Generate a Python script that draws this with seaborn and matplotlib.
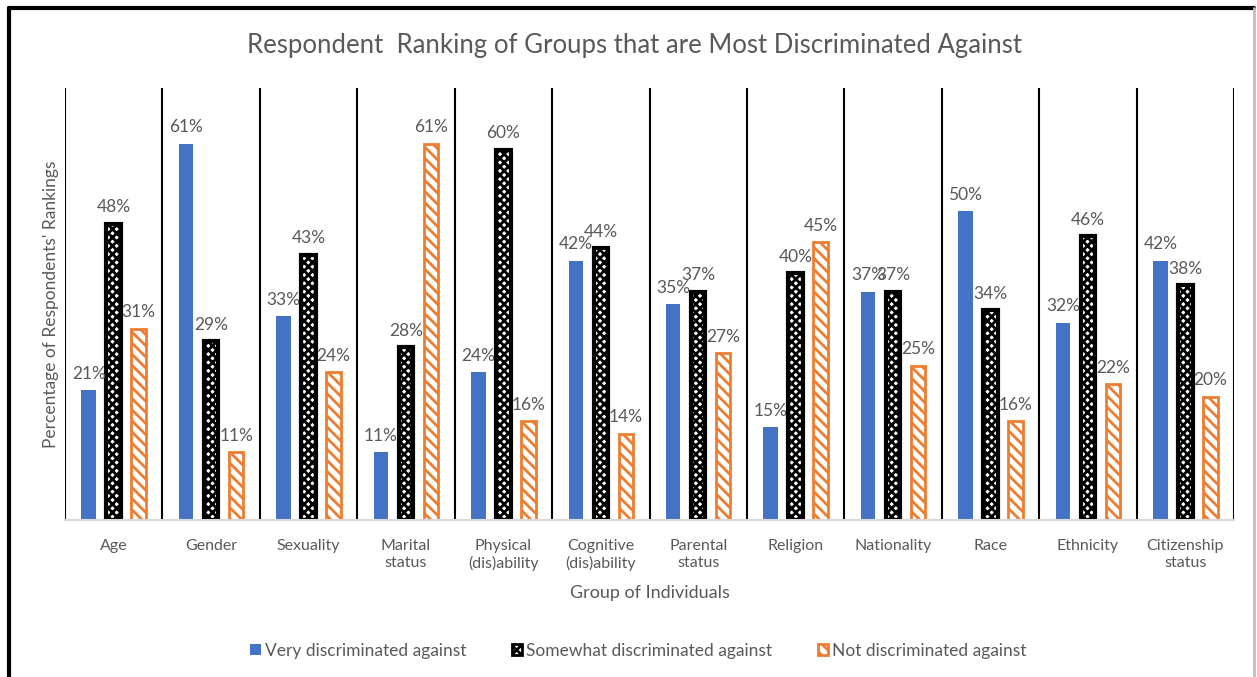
import matplotlib
matplotlib.use("Agg")
import matplotlib.pyplot as plt
import seaborn as sns
import pandas as pd
from matplotlib.patches import Patch
from matplotlib.lines import Line2D

categories = ["Age", "Gender", "Sexuality", "Marital\nstatus", "Physical\n(dis)ability",
              "Cognitive\n(dis)ability", "Parental\nstatus", "Religion", "Nationality",
              "Race", "Ethnicity", "Citizenship\nstatus"]
very = [21, 61, 33, 11, 24, 42, 35, 15, 37, 50, 32, 42]
somewhat = [48, 29, 43, 28, 60, 44, 37, 40, 37, 34, 46, 38]
notd = [31, 11, 24, 61, 16, 14, 27, 45, 25, 16, 22, 20]
series = ["Very discriminated against", "Somewhat discriminated against", "Not discriminated against"]

rows = []
for s, vals in zip(series, [very, somewhat, notd]):
    for c, v in zip(categories, vals):
        rows.append({"cat": c, "series": s, "val": v})
df = pd.DataFrame(rows)

sns.set_theme(style="white")
plt.rcParams["font.family"] = ["Lato", "DejaVu Sans"]
plt.rcParams["hatch.linewidth"] = 2.0
GRAY = "#595959"
BLUE = "#4472C4"
ORANGE = "#ED7D31"

fig = plt.figure(figsize=(12.57, 6.77), dpi=100)
ax = fig.add_axes([65/1257, 1-520/677, (1234-65)/1257, (520-88)/677])

sns.barplot(data=df, x="cat", y="val", hue="series", hue_order=series, order=categories,
            palette=[BLUE, "black", ORANGE], width=0.77, gap=0.42, ax=ax, legend=False,
            saturation=1)

ncat = len(categories)
for i, bar in enumerate(ax.patches[:3*ncat]):
    k = i // ncat
    if k == 0:
        bar.set_facecolor(BLUE)
        bar.set_edgecolor(BLUE)
        bar.set_linewidth(0)
    elif k == 1:
        bar.set_facecolor("white")
        bar.set_edgecolor("black")
        bar.set_hatch("xxxx")
        bar.set_linewidth(3)
    else:
        bar.set_facecolor("white")
        bar.set_edgecolor(ORANGE)
        bar.set_hatch("\\\\\\")
        bar.set_linewidth(2)
    h = bar.get_height()
    ax.annotate(f"{h:.0f}%", (bar.get_x() + bar.get_width()/2, h),
                xytext=(0, 6), textcoords="offset points", ha="center", va="bottom",
                fontsize=12.5, color=GRAY)

ax.set_ylim(0, 70)
ax.set_xlim(-0.5, ncat - 0.5)
for i in range(ncat + 1):
    ax.axvline(i - 0.5, color="black", lw=1.5, zorder=0)
for s in ["top", "right", "left"]:
    ax.spines[s].set_visible(False)
ax.spines["bottom"].set_color("#D9D9D9")
ax.spines["bottom"].set_linewidth(1.5)
ax.set_yticks([])
ax.tick_params(axis="x", length=0, pad=14, labelsize=11.5, labelcolor=GRAY)
ax.set_xlabel("Group of Individuals", fontsize=13, color=GRAY, labelpad=10)
ax.set_ylabel("Percentage of Respondents' Rankings", fontsize=12.5, color=GRAY, labelpad=4)

fig.text(0.505, 1-45/677, "Respondent  Ranking of Groups that are Most Discriminated Against",
         ha="center", va="center", fontsize=18.5, color=GRAY)

handles = [
    Patch(facecolor=BLUE, edgecolor=BLUE, lw=0),
    Patch(facecolor="white", edgecolor="black", hatch="xxxx", lw=2),
    Patch(facecolor="white", edgecolor=ORANGE, hatch="\\\\\\", lw=2),
]
fig.legend(handles, series, loc="center", bbox_to_anchor=(0.508, 1-651/677), ncol=3,
           frameon=False, fontsize=12.5, labelcolor=GRAY, handlelength=0.6,
           handleheight=0.6, columnspacing=2.6, handletextpad=0.25)

# outer frame
fig.add_artist(Line2D([9/1257, 9/1257], [0, 1-8/677], color="black", lw=3, transform=fig.transFigure))
fig.add_artist(Line2D([9/1257, 1254/1257], [1-8/677, 1-8/677], color="black", lw=3, transform=fig.transFigure))
fig.add_artist(Line2D([1254/1257, 1254/1257], [0, 1-8/677], color="#BFBFBF", lw=2, transform=fig.transFigure))

fig.savefig("out.png", dpi=100)
